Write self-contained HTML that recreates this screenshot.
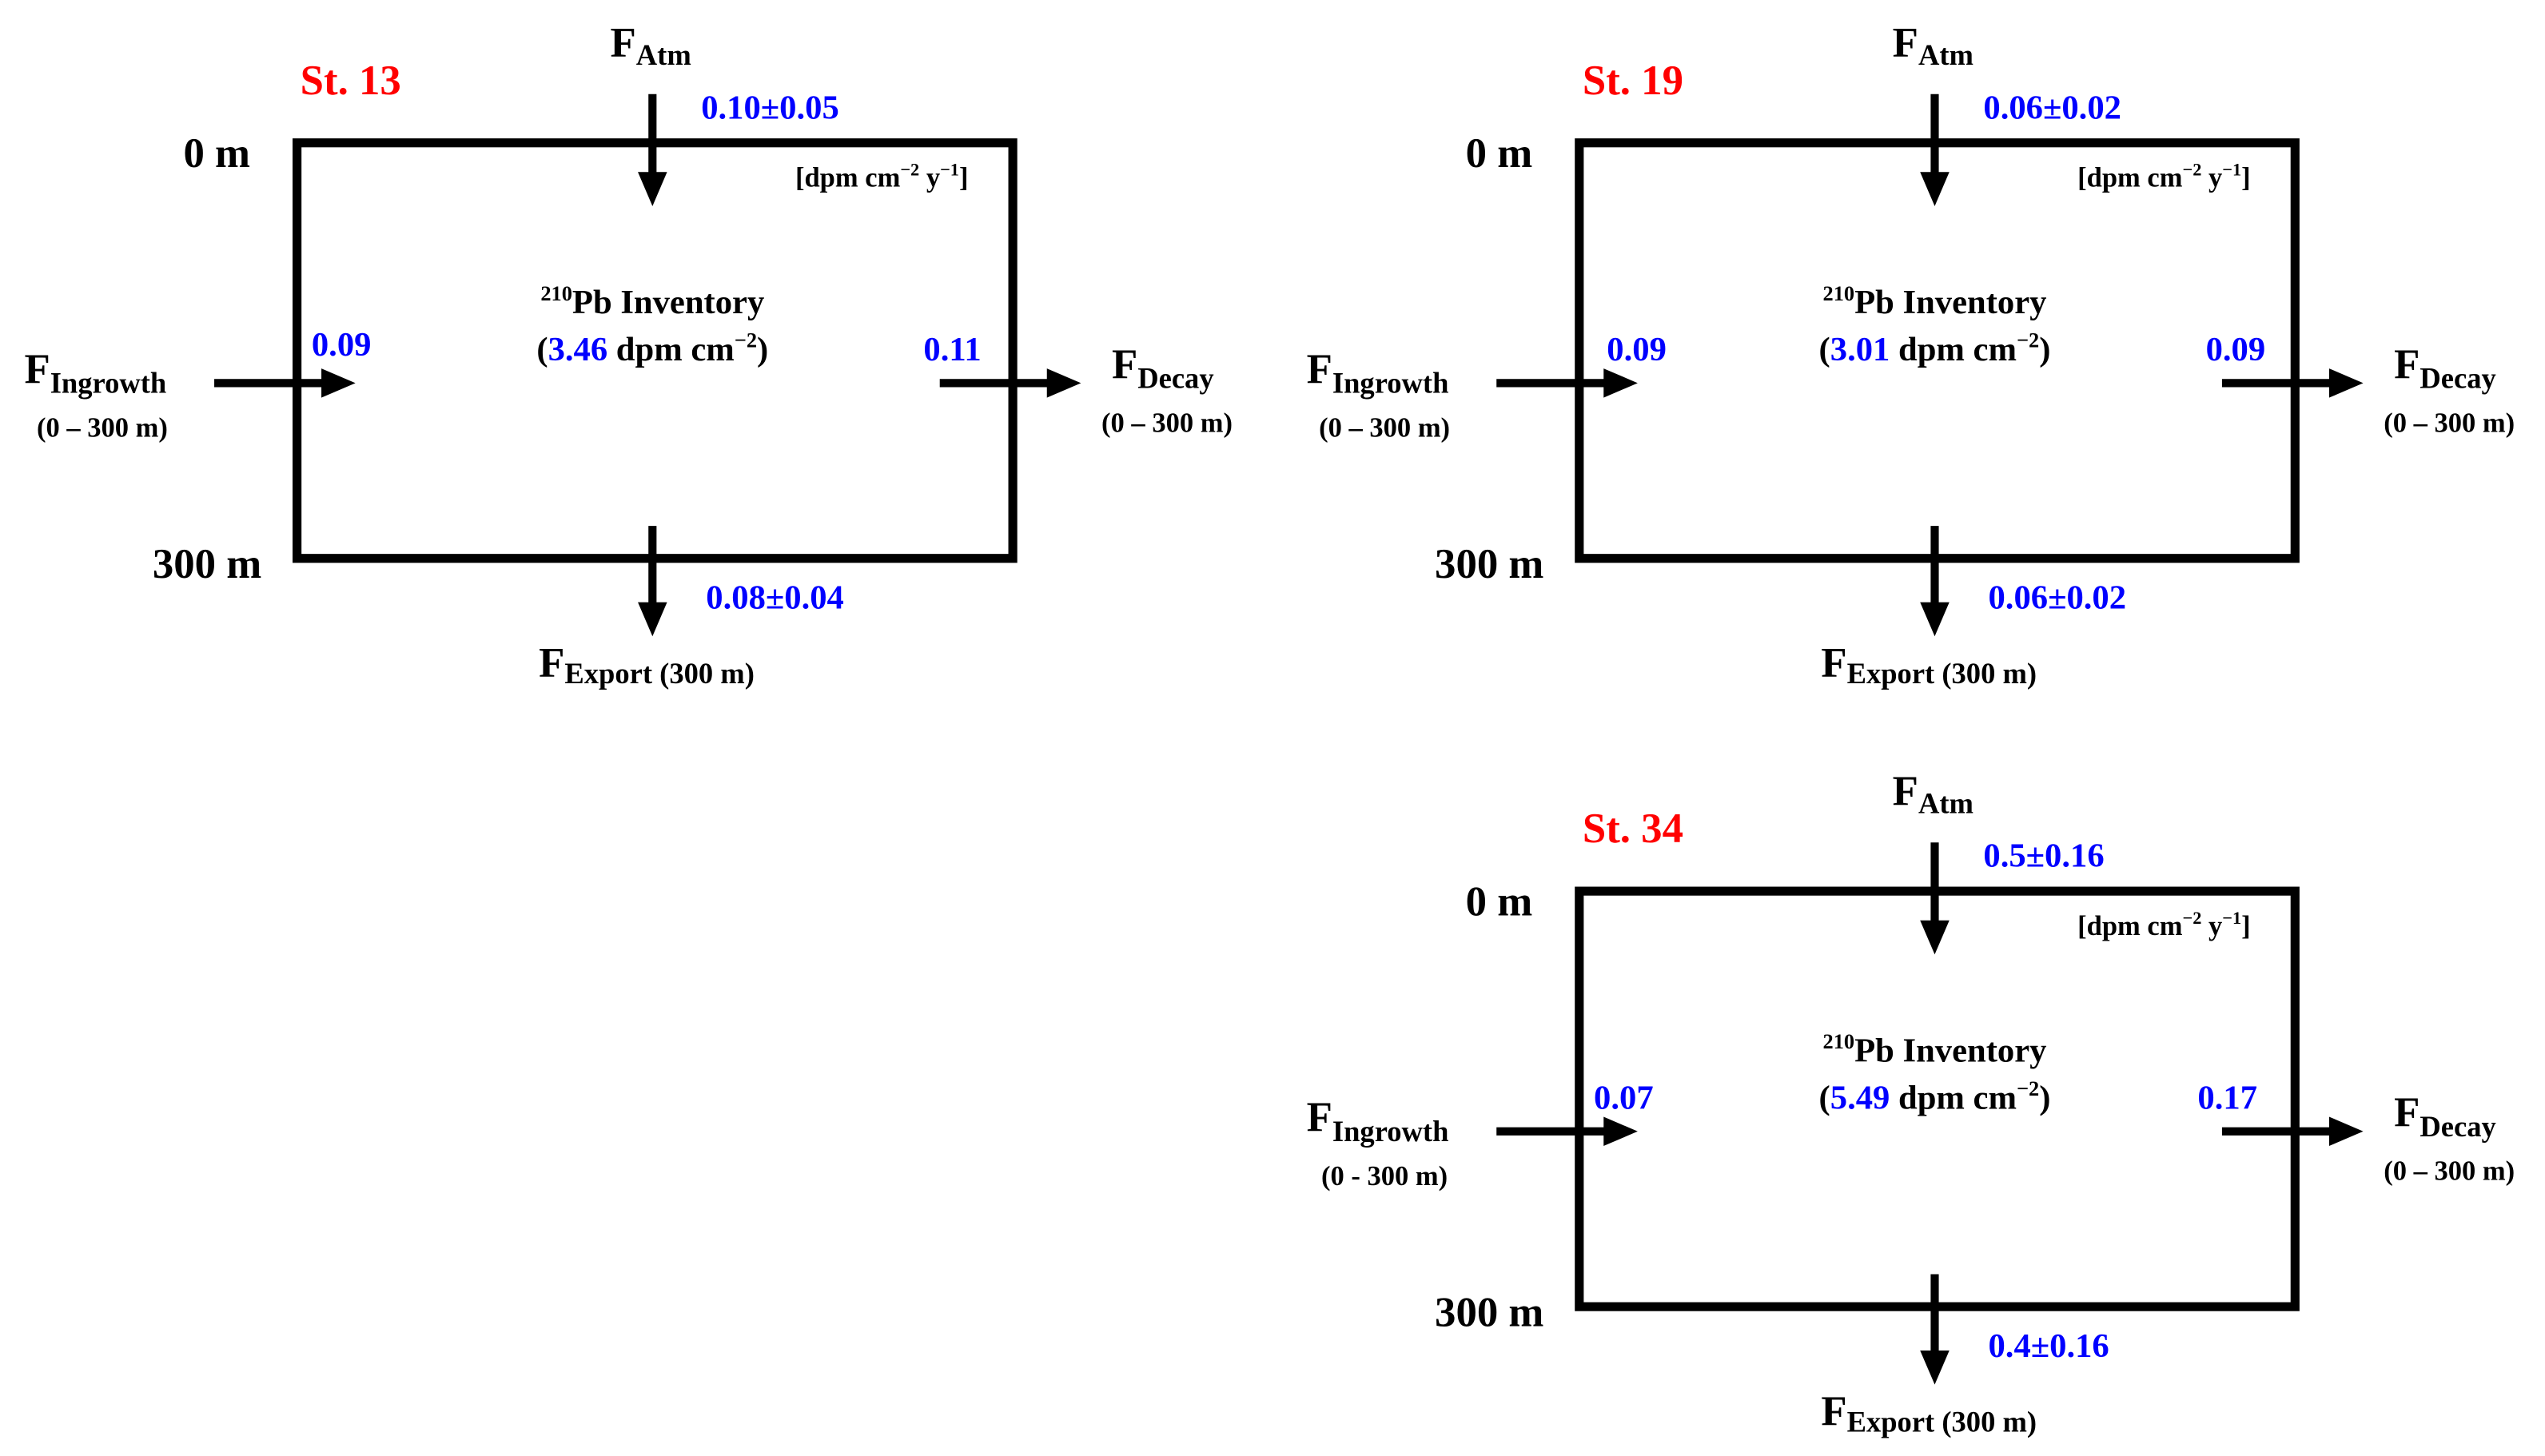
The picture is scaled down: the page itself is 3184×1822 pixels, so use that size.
<!DOCTYPE html>
<html><head><meta charset="utf-8"><style>
html,body{margin:0;padding:0;background:#fff;}
svg{display:block;}
text{font-family:"Liberation Serif",serif;font-weight:bold;}
.b{fill:#0000ff;}
.r{fill:#ff0000;}
</style></head><body>
<svg width="3184" height="1822" viewBox="0 0 1568 897" preserveAspectRatio="none" xmlns="http://www.w3.org/2000/svg">
<defs>
<g id="frame">
<rect x="183" y="88" width="441" height="256" fill="none" stroke="#000" stroke-width="5.5"/>
<line x1="402" y1="58" x2="402" y2="108" stroke="#000" stroke-width="5"/>
<polygon points="393,106 411,106 402,127" fill="#000"/>
<line x1="402" y1="324" x2="402" y2="373" stroke="#000" stroke-width="5"/>
<polygon points="393,371 411,371 402,392" fill="#000"/>
<line x1="132" y1="236" x2="200" y2="236" stroke="#000" stroke-width="5"/>
<polygon points="198,227 198,245 219,236" fill="#000"/>
<line x1="579" y1="236" x2="647" y2="236" stroke="#000" stroke-width="5"/>
<polygon points="645,227 645,245 666,236" fill="#000"/>
<text x="376" y="35" font-size="26">F<tspan font-size="18" dy="5">Atm</tspan></text>
<text x="113" y="103" font-size="26">0 m</text>
<text x="94" y="356" font-size="26">300 m</text>
<text x="490" y="115" font-size="17">[dpm cm<tspan font-size="11" dy="-7">−2</tspan><tspan dy="7"> y</tspan><tspan font-size="11" dy="-7">−1</tspan><tspan dy="7">]</tspan></text>
<text x="402" y="193" font-size="21" text-anchor="middle"><tspan font-size="13" dy="-8">210</tspan><tspan dy="8">Pb Inventory</tspan></text>
<text x="15" y="236" font-size="26">F<tspan font-size="18" dy="6">Ingrowth</tspan></text>
<text x="685" y="233" font-size="26">F<tspan font-size="18" dy="6">Decay</tspan></text>
<text x="719" y="266" font-size="17" text-anchor="middle">(0 – 300 m)</text>
<text x="332" y="417" font-size="26">F<tspan font-size="18" dy="4">Export (300 m)</tspan></text>
</g>
</defs>

<!-- St. 13 -->
<use href="#frame"/>
<text x="185" y="58" font-size="26" class="r">St. 13</text>
<text x="432" y="73" font-size="21" class="b">0.10±0.05</text>
<text x="192" y="219" font-size="21" class="b">0.09</text>
<text x="569" y="222" font-size="21" class="b">0.11</text>
<text x="435" y="375" font-size="21" class="b">0.08±0.04</text>
<text x="402" y="222" font-size="21" text-anchor="middle">(<tspan class="b">3.46</tspan> dpm cm<tspan font-size="13" dy="-8">−2</tspan><tspan dy="8">)</tspan></text>
<text x="63" y="269" font-size="17" text-anchor="middle">(0 – 300 m)</text>

<!-- St. 19 -->
<g transform="translate(790,0)">
<use href="#frame"/>
<text x="185" y="58" font-size="26" class="r">St. 19</text>
<text x="432" y="73" font-size="21" class="b">0.06±0.02</text>
<text x="200" y="222" font-size="21" class="b">0.09</text>
<text x="569" y="222" font-size="21" class="b">0.09</text>
<text x="435" y="375" font-size="21" class="b">0.06±0.02</text>
<text x="402" y="222" font-size="21" text-anchor="middle">(<tspan class="b">3.01</tspan> dpm cm<tspan font-size="13" dy="-8">−2</tspan><tspan dy="8">)</tspan></text>
<text x="63" y="269" font-size="17" text-anchor="middle">(0 – 300 m)</text>
</g>

<!-- St. 34 -->
<g transform="translate(790,461)">
<use href="#frame"/>
<text x="185" y="58" font-size="26" class="r">St. 34</text>
<text x="432" y="73" font-size="21" class="b">0.5±0.16</text>
<text x="192" y="222" font-size="21" class="b">0.07</text>
<text x="564" y="222" font-size="21" class="b">0.17</text>
<text x="435" y="375" font-size="21" class="b">0.4±0.16</text>
<text x="402" y="222" font-size="21" text-anchor="middle">(<tspan class="b">5.49</tspan> dpm cm<tspan font-size="13" dy="-8">−2</tspan><tspan dy="8">)</tspan></text>
<text x="63" y="269" font-size="17" text-anchor="middle">(0 - 300 m)</text>
</g>
</svg>
</body></html>
